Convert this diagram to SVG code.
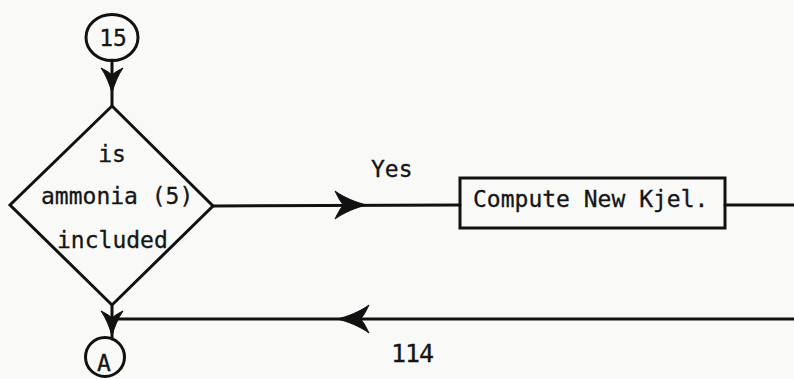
<svg xmlns="http://www.w3.org/2000/svg" width="794" height="379" viewBox="0 0 794 379">
  <style>
    .ln { fill: none; stroke: #111; stroke-width: 3; stroke-linecap: round; stroke-linejoin: round; }
    .shape { fill: none; stroke: #111; stroke-width: 3; }
    .t { font-family: "DejaVu Sans Mono", "Liberation Mono", monospace; font-size: 23px; fill: #151515; stroke: #151515; stroke-width: 0.3; }
    .big { font-size: 25px; letter-spacing: -1px; }
    .ah { fill: #111; stroke: #111; stroke-width: 1; }
  </style>
  <defs>
    <path id="arrow" d="M0,0 C-10,-2 -24,-8 -32,-14 C-28,-6 -26,-2 -23,0 C-26,2 -28,6 -32,14 C-24,8 -10,2 0,0 Z"/>
    <path id="arrowS" d="M0,0 C-8,-2 -18,-6 -25,-11 C-22,-5 -20,-2 -18,0 C-20,2 -22,5 -25,11 C-18,6 -8,2 0,0 Z"/>
  </defs>
  <rect x="0" y="0" width="794" height="379" fill="#f9f9f7"/>

  <g id="connectors">
    <line class="ln" x1="112" y1="60" x2="112" y2="106"/>
    <use href="#arrowS" class="ah" transform="translate(112,93) rotate(90)"/>
    <line class="ln" x1="213" y1="206" x2="460" y2="205"/>
    <use href="#arrow" class="ah" transform="translate(367,205)"/>
    <line class="ln" x1="725" y1="205" x2="796" y2="205"/>
    <line class="ln" x1="796" y1="319" x2="112" y2="319"/>
    <use href="#arrow" class="ah" transform="translate(337,319) rotate(180)"/>
    <line class="ln" x1="112" y1="305" x2="112" y2="339"/>
    <use href="#arrowS" class="ah" transform="translate(112,336) rotate(90)"/>
  </g>

  <g id="node-15">
    <ellipse class="shape" cx="112" cy="37.5" rx="26" ry="23"/>
    <text class="t" x="113" y="46" text-anchor="middle">15</text>
  </g>

  <g id="node-decision">
    <polygon class="shape" points="112,106 213,206 112,305 10,205"/>
    <text class="t" x="112" y="162" text-anchor="middle">is</text>
    <text class="t" x="41" y="204">ammonia (5)</text>
    <text class="t" x="57" y="248">included</text>
  </g>

  <g id="node-compute">
    <rect class="shape" x="460" y="178" width="265" height="50"/>
    <text class="t" x="473" y="207">Compute New Kjel.</text>
  </g>

  <g id="node-A">
    <circle class="shape" cx="105" cy="357" r="19.5"/>
    <text class="t" x="104" y="371" text-anchor="middle">A</text>
  </g>

  <g id="labels">
    <text class="t" x="371" y="177">Yes</text>
    <text class="t big" x="391" y="362">114</text>
  </g>
</svg>
